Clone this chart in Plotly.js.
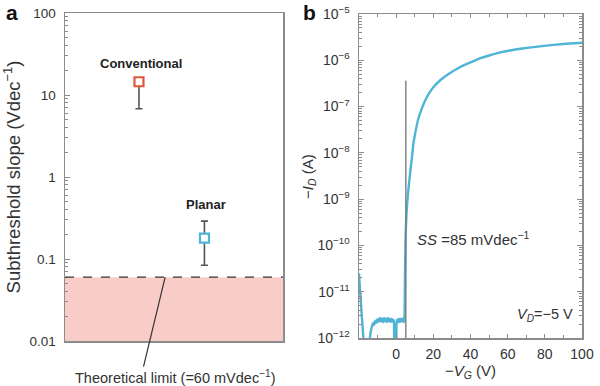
<!DOCTYPE html>
<html>
<head>
<meta charset="utf-8">
<script src="https://cdn.plot.ly/plotly-3.0.1.min.js"></script>
<style>html,body{margin:0;padding:0;background:#fff;}#chart{width:600px;height:386px;}</style>
</head>
<body>
<div id="chart"></div>
<script>
// ---- Panel a data ----
const devices = ["Conventional", "Planar"];
const devicePos = [1, 2];
const ssValues = [14.5, 0.18];          // V/dec
const ssErrPlus = [0, 0.11];
const ssErrMinus = [7.7, 0.096];
const deviceColors = ["#e0573b", "#4fb4d6"];
const theoreticalLimit = 0.06;          // V/dec
const aTickVals = [0.01, 0.1, 1, 10, 100];
const aTickText = ["0.01", "0.1", "1", "10", "100"];

// ---- Panel b data ----
const vg = [-20, -19.5, -19, -18.5, -18, -17.5, -17, -16, -15, -14.5, -14, -13.5, -13, -12.5, -12, -11.5, -11, -10.5, -10, -9.5, -9, -8.5, -8, -7.5, -7, -6.5, -6, -5.5, -5, -4.5, -4, -3.5, -3, -2.5, -2, -1.5, -1.2, -1, -0.5, 0, 0.2, 0.5, 1, 1.5, 2, 2.5, 3, 3.5, 4, 4.3, 4.5, 4.7, 5.0, 5.6, 6.5, 7.5, 8.5, 9.3, 10.5, 12, 14, 16.5, 20, 23.7, 28, 34, 40, 45, 50, 56, 62, 68, 75, 82, 90, 100];
const idA = [2.5e-11, 1.2e-11, 6e-12, 3e-12, 1.6e-12, 8e-13, 4e-13, 3e-13, 4e-13, 7e-13, 1.1e-12, 1.5e-12, 1.8e-12, 2.1e-12, 1.9e-12, 2.3e-12, 2.1e-12, 2.5e-12, 2.2e-12, 2.6e-12, 2.3e-12, 2.7e-12, 2.3e-12, 2.6e-12, 2.2e-12, 2.7e-12, 2.3e-12, 2.6e-12, 2.2e-12, 2.7e-12, 2.3e-12, 2.6e-12, 2.2e-12, 2.6e-12, 2.3e-12, 2.5e-12, 2.2e-12, 5e-13, 4e-13, 5e-13, 2.1e-12, 2.5e-12, 2.2e-12, 2.6e-12, 2.2e-12, 2.6e-12, 2.3e-12, 2.6e-12, 2.2e-12, 2.4e-12, 3e-12, 1.5e-11, 1.2e-10, 5e-10, 1.5e-9, 3.6e-9, 8e-9, 1.6e-8, 3e-8, 5.6e-8, 9.5e-8, 1.6e-7, 2.6e-7, 3.7e-7, 5e-7, 7e-7, 9e-7, 1.1e-6, 1.27e-6, 1.48e-6, 1.65e-6, 1.8e-6, 1.95e-6, 2.1e-6, 2.25e-6, 2.4e-6];
const ssLineX = [5.2, 5.2];
const ssLineY = [1e-12, 3.6e-7];
const bTickExp = [-12, -11, -10, -9, -8, -7, -6, -5];
const bXTicks = [0, 20, 40, 60, 80, 100];

// ---- helpers (styling) ----
function minorLogVals(lo, hi) {
  const v = [];
  for (let e = lo; e < hi; e++) for (let m = 2; m <= 9; m++) v.push(m * Math.pow(10, e));
  return v;
}
const frame = "#8c8c8c";
const txt = "#333";
const FONT = "Liberation Sans, Arial, sans-serif";
const aRange = [-2, 2];
const limitFrac = (Math.log10(theoreticalLimit) - aRange[0]) / (aRange[1] - aRange[0]);

const traces = [
  {
    x: [devicePos[0]], y: [ssValues[0]], xaxis: "x", yaxis: "y", mode: "markers", type: "scatter",
    marker: {symbol: "square", size: 9, color: "#fff", line: {color: deviceColors[0], width: 2.2}},
    error_y: {type: "data", symmetric: false, array: [ssErrPlus[0]], arrayminus: [ssErrMinus[0]], color: "#555", thickness: 1.6, width: 3.5}
  },
  {
    x: [devicePos[1]], y: [ssValues[1]], xaxis: "x", yaxis: "y", mode: "markers", type: "scatter",
    marker: {symbol: "square", size: 9, color: "#fff", line: {color: deviceColors[1], width: 2.2}},
    error_y: {type: "data", symmetric: false, array: [ssErrPlus[1]], arrayminus: [ssErrMinus[1]], color: "#555", thickness: 1.6, width: 3.5}
  },
  {
    x: vg, y: idA, xaxis: "x2", yaxis: "y2", mode: "lines", type: "scatter",
    line: {color: "#4fb4d6", width: 2.4, shape: "spline", smoothing: 0.6}
  },
  {
    x: ssLineX, y: ssLineY, xaxis: "x2", yaxis: "y2", mode: "lines", type: "scatter",
    line: {color: "#7a7a7a", width: 1.4}
  }
];

const layout = {
  width: 600, height: 386,
  margin: {l: 0, r: 0, t: 0, b: 0},
  paper_bgcolor: "#fff", plot_bgcolor: "#fff",
  showlegend: false,
  font: {family: FONT, size: 13, color: txt},
  xaxis: {
    domain: [65/600, 283/600], range: [-0.13, 3.2],
    showline: true, linecolor: frame, linewidth: 1.5, mirror: true,
    ticks: "", showticklabels: false, showgrid: false, zeroline: false
  },
  yaxis: {
    domain: [1 - 341/386, 1 - 13/386], type: "log", range: aRange,
    showline: true, linecolor: frame, linewidth: 1.5, mirror: true,
    ticks: "inside", ticklen: 5, tickcolor: frame, tickwidth: 1,
    tickvals: aTickVals, ticktext: aTickText, ticklabelstandoff: 5,
    minor: {ticks: "inside", ticklen: 3, tickcolor: frame, tickvals: minorLogVals(-2, 2), showgrid: false},
    showgrid: false, zeroline: false,
    tickfont: {size: 13.5, color: txt},
    title: {text: "Subthreshold slope (Vdec<sup>−1</sup>)", font: {size: 18.5, color: txt}, standoff: 4}
  },
  xaxis2: {
    domain: [359/600, 582/600], range: [-20, 100], anchor: "y2",
    showline: true, linecolor: frame, linewidth: 1.5, mirror: "ticks",
    ticks: "inside", ticklen: 4, tickcolor: frame, tickvals: bXTicks,
    minor: {ticks: "inside", ticklen: 3, tickcolor: frame, dtick: 10, showgrid: false},
    showgrid: false, zeroline: false, ticklabelstandoff: 3,
    tickfont: {size: 14, color: txt},
    title: {text: "−<i>V</i><sub><i>G</i></sub> (V)", font: {size: 15, color: txt}, standoff: 3}
  },
  yaxis2: {
    domain: [1 - 338/386, 1 - 14/386], type: "log", range: [-12, -5], anchor: "x2",
    showline: true, linecolor: frame, linewidth: 1.5, mirror: "ticks",
    ticks: "inside", ticklen: 5, tickcolor: frame,
    tickvals: bTickExp.map(e => Math.pow(10, e)),
    ticktext: bTickExp.map(e => "10<sup>−" + Math.abs(e) + "</sup>"),
    ticklabelstandoff: 5,
    minor: {ticks: "inside", ticklen: 3, tickcolor: frame, tickvals: minorLogVals(-12, -5), showgrid: false},
    showgrid: false, zeroline: false,
    tickfont: {size: 14, color: txt}
  },
  shapes: [
    {type: "rect", xref: "x domain", yref: "y domain", x0: 0, x1: 1, y0: 0, y1: limitFrac,
     fillcolor: "#f8cdc8", line: {width: 0}, layer: "below"},
    {type: "line", xref: "x domain", yref: "y domain", x0: 0, x1: 1, y0: limitFrac, y1: limitFrac,
     line: {color: "#333", width: 1.3, dash: "dash"}, layer: "above"}
  ],
  annotations: [
    {text: "<b>a</b>", xref: "paper", yref: "paper", x: 12/600, y: 1, xanchor: "center", yanchor: "top", showarrow: false, borderpad: 0, font: {size: 21, color: "#111"}},
    {text: "<b>b</b>", xref: "paper", yref: "paper", x: 309/600, y: 1, xanchor: "center", yanchor: "top", showarrow: false, borderpad: 0, font: {size: 21, color: "#111"}},
    {text: "−<i>I</i><sub><i>D</i></sub> (A)", xref: "paper", yref: "paper", x: 308/600, y: 1 - 177/386, xanchor: "center", yanchor: "middle", textangle: -90, showarrow: false, font: {size: 15, color: txt}},
    {text: "<b>" + devices[0] + "</b>", xref: "x", yref: "y", x: devicePos[0] + 0.03, y: 1.39, xanchor: "center", showarrow: false, font: {size: 13, color: "#222"}},
    {text: "<b>" + devices[1] + "</b>", xref: "x", yref: "y", x: devicePos[1] + 0.02, y: -0.34, xanchor: "center", showarrow: false, font: {size: 13, color: "#222"}},
    {text: "", xref: "x", yref: "y", x: 1.4, y: Math.log10(theoreticalLimit), showarrow: true, arrowhead: 0, arrowwidth: 1.2, arrowcolor: "#333", ax: -22, ay: 91, standoff: 0, startstandoff: 0},
    {text: "Theoretical limit (=60 mVdec<sup>−1</sup>)", xref: "paper", yref: "paper", x: 175/600, y: 1 - 377/386, xanchor: "center", yanchor: "middle", showarrow: false, font: {size: 14.5, color: txt}},
    {text: "<i>SS</i> =85 mVdec<sup>−1</sup>", xref: "x2", yref: "y2", x: 10, y: -9.84, xanchor: "left", showarrow: false, font: {size: 15, color: txt}},
    {text: "<i>V</i><sub><i>D</i></sub>=−5 V", xref: "x2", yref: "y2", x: 96, y: -11.5, xanchor: "right", showarrow: false, font: {size: 14.5, color: txt}}
  ]
};

Plotly.newPlot("chart", traces, layout, {staticPlot: true, displayModeBar: false});
</script>
</body>
</html>
